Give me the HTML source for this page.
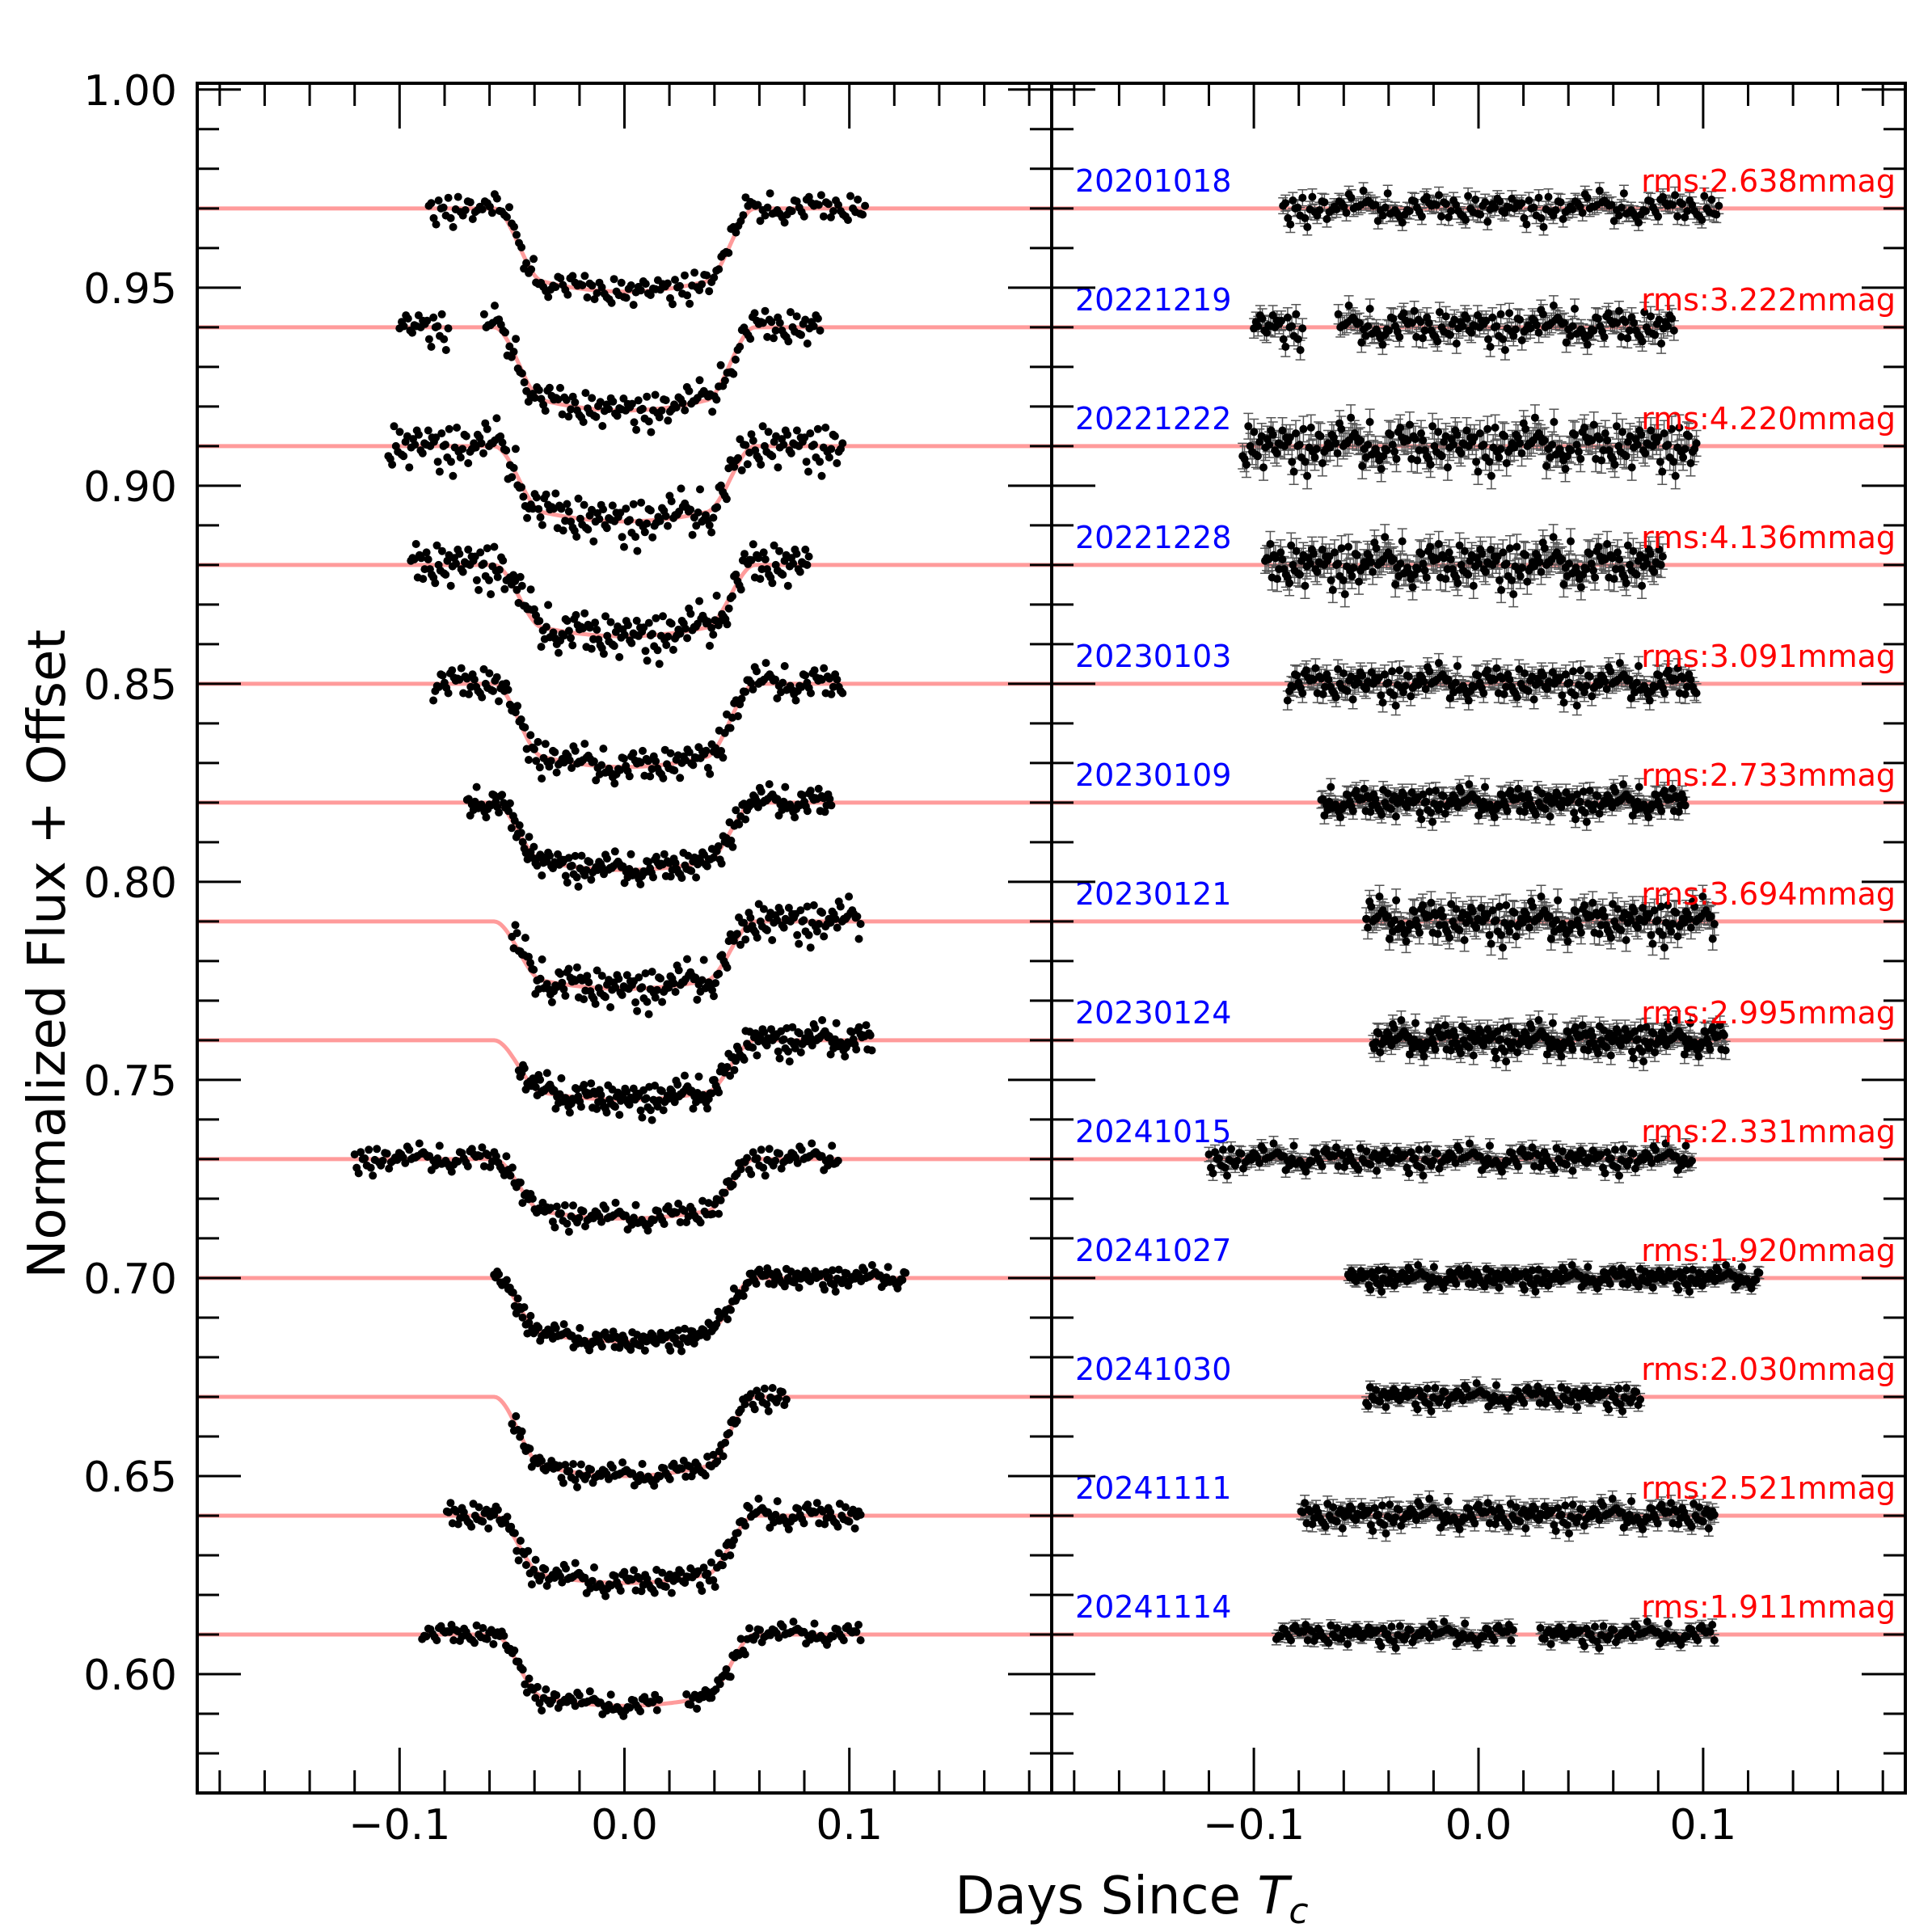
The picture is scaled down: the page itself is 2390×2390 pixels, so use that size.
<!DOCTYPE html>
<html><head><meta charset="utf-8"><style>
html,body{margin:0;padding:0;background:#fff}
svg{display:block}
text{font-family:"DejaVu Sans","Liberation Sans",sans-serif}
</style></head><body>
<svg id="chart" width="2390" height="2390" viewBox="0 0 2390 2390" xmlns="http://www.w3.org/2000/svg">
<rect width="2390" height="2390" fill="#fff"/>
<g id="gL"></g>
<g id="gR"></g>
<g id="gA"></g>
<text x="0" y="0" font-size="64" text-anchor="middle" transform="translate(80,1180) rotate(-90)">Normalized Flux + Offset</text>
<text x="1400" y="2367" font-size="64" text-anchor="middle">Days Since <tspan font-style="italic">T</tspan><tspan font-style="italic" font-size="44" dy="12">c</tspan></text>
</svg>
<script>
// ---- data ----
const nightDates = ["20201018","20221219","20221222","20221228","20230103","20230109","20230121","20230124","20241015","20241027","20241030","20241111","20241114"];
const nightOffsets = [0.97,0.94,0.91,0.88,0.85,0.82,0.79,0.76,0.73,0.70,0.67,0.64,0.61];
const nightRms = [2.638,3.222,4.220,4.136,3.091,2.733,3.694,2.995,2.331,1.920,2.030,2.521,1.911];
const nightStart = [-0.087,-0.100,-0.105,-0.095,-0.085,-0.070,-0.050,-0.047,-0.120,-0.058,-0.050,-0.079,-0.090];
const nightEnd = [0.107,0.087,0.097,0.082,0.097,0.092,0.105,0.110,0.095,0.125,0.072,0.105,0.105];
const nightCount = [180,200,240,230,220,230,210,250,240,260,140,220,210];
const nightGapStart = [null,-0.078,null,null,null,null,null,null,null,null,null,null,0.016];
const nightGapEnd = [null,-0.063,null,null,null,null,null,null,null,null,null,null,0.027];
const nightDepth = [0.021,0.021,0.019,0.018,0.021,0.017,0.017,0.015,0.015,0.016,0.020,0.017,0.018];
const residualTable = [0.3,-0.8,1.2,0.1,-0.4,0.9,-1.5,0.6,-0.2,0.0,1.7,-0.9,0.4,-0.1,-1.1,0.8,0.2,-0.6,1.0,-0.3,
 0.5,-1.8,0.7,0.2,-0.5,1.3,-0.7,0.1,0.9,-1.2,0.4,-0.2,0.6,-0.9,1.1,0.0,-0.4,2.0,-0.6,0.3,
 -1.3,0.8,0.1,-0.2,0.7,-1.0,0.5,1.4,-0.3,-0.8,0.2,0.9,-1.6,0.4,0.0,-0.5,1.2,-0.1,0.6,-0.7,
 1.5,-0.4,0.2,-1.1,0.8,0.3,-0.2,-0.9,1.0,0.1,-2.1,0.6,0.4,-0.3,0.7,-0.6,1.1,-0.1,0.2,-1.4,
 0.9,0.5,-0.7,0.0,1.3,-0.5,-0.2,0.8,-1.0,0.3,0.6,-0.4,1.6,-0.8,0.1,-0.3,0.7];
const xTickLabels = ["−0.1","0.0","0.1"];
const xTickValues = [-0.1,0,0.1];
const yTickValues = [0.60,0.65,0.70,0.75,0.80,0.85,0.90,0.95,1.00];
const yTickLabels = ["0.60","0.65","0.70","0.75","0.80","0.85","0.90","0.95","1.00"];

// ---- axes ----
const X0=244,X1=1301,X2=2357,YT=103,YB=2218;
const XMIN=-0.19,XMAX=0.19,YMAX=1.0016,YMIN=0.570;
function xL(t){return X0+(t-XMIN)/(XMAX-XMIN)*(X1-X0);}
function xR(t){return X1+(t-XMIN)/(XMAX-XMIN)*(X2-X1);}
function yS(v){return YT+(YMAX-v)/(YMAX-YMIN)*(YB-YT);}
const NS="http://www.w3.org/2000/svg";
function mk(parent,tag,attrs){const e=document.createElementNS(NS,tag);for(const k in attrs)e.setAttribute(k,attrs[k]);parent.appendChild(e);return e;}
function model(t,depth){
  const t1=0.058,t2=0.036,a=Math.abs(t);
  if(a>=t1) return 0;
  if(a<=t2) return depth*(0.88+0.12*(1-(t/t2)*(t/t2)));
  const s=(t1-a)/(t1-t2); const sm=s*s*(3-2*s);
  return depth*0.88*sm;
}
const gL=document.getElementById('gL'),gR=document.getElementById('gR'),gA=document.getElementById('gA');
for(let n=0;n<nightDates.length;n++){
  const off=nightOffsets[n],dep=nightDepth[n],sig=nightRms[n]*0.00085;
  let d="";
  for(let k=0;k<=380;k++){const t=XMIN+k*(XMAX-XMIN)/380;d+=(k?"L":"M")+xL(t).toFixed(1)+" "+yS(off-model(t,dep)).toFixed(1);}
  const ml=mk(gL,'path',{d:d,fill:'none',stroke:'#ff9090',"stroke-width":5,"stroke-opacity":0.9});
  
  
  const rl=mk(gR,'line',{x1:X1,x2:X2,y1:yS(off),y2:yS(off),stroke:'#ff9090',"stroke-width":5,"stroke-opacity":0.9});
  
  
  const pts=mk(gL,'g',{fill:'#000'});
  
  
  const rp=mk(gR,'g',{});
  
  
  let eb="",cnt=nightCount[n];
  for(let i=0;i<cnt;i++){
    const t=nightStart[n]+i*(nightEnd[n]-nightStart[n])/(cnt-1);
    if(nightGapStart[n]!==null && t>nightGapStart[n] && t<nightGapEnd[n]) continue;
    const r=residualTable[(i*7+n*13)%residualTable.length]*sig;
    const v=off-model(t,dep)+r;
    mk(pts,'circle',{cx:xL(t).toFixed(1),cy:yS(v).toFixed(1),r:5});
    const xr=xR(t),yr=yS(off+r);
    const eh=sig*0.9*(YB-YT)/(YMAX-YMIN);
    eb+="M"+xr.toFixed(1)+" "+(yr-eh).toFixed(1)+"V"+(yr+eh).toFixed(1)+"M"+(xr-6).toFixed(1)+" "+(yr-eh).toFixed(1)+"h12M"+(xr-6).toFixed(1)+" "+(yr+eh).toFixed(1)+"h12";
  }
  const ebp=mk(rp,'path',{d:eb,stroke:'#555',"stroke-width":1.5,fill:'none'});
  
  
  const rg=mk(rp,'g',{fill:'#000'});
  for(let i=0;i<cnt;i++){
    const t=nightStart[n]+i*(nightEnd[n]-nightStart[n])/(cnt-1);
    if(nightGapStart[n]!==null && t>nightGapStart[n] && t<nightGapEnd[n]) continue;
    const r=residualTable[(i*7+n*13)%residualTable.length]*sig;
    mk(rg,'circle',{cx:xR(t).toFixed(1),cy:yS(off+r).toFixed(1),r:5});
  }
  const dl=mk(gR,'text',{x:1330,y:(yS(off)-21).toFixed(1),"font-size":38,fill:'#0000ff'});
  dl.textContent=nightDates[n];
  
  
  const rmsl=mk(gR,'text',{x:2345,y:(yS(off)-21).toFixed(1),"font-size":38,fill:'#ff0000',"text-anchor":"end"});
  rmsl.textContent="rms:"+nightRms[n].toFixed(3)+"mmag";
  
  
}
let tk="";
for(const [fx,lo,hi] of [[xL,X0,X1],[xR,X1,X2]]){
  for(let k=-9;k<=9;k++){const t=k*0.02;const major=(k%5===0);const px=fx(t);const L=major?56:28;
    tk+="M"+px.toFixed(1)+" "+YB+"v"+(-L)+"M"+px.toFixed(1)+" "+YT+"v"+L;}
  for(let k=57;k<=100;k++){const v=k/100;const py=yS(v).toFixed(1);const major=(k%5===0);const L=major?54:27;
    tk+="M"+lo+" "+py+"h"+L+"M"+hi+" "+py+"h"+(-L);}
}
const tp=mk(gA,'path',{d:tk,stroke:'#000',"stroke-width":3,fill:'none'});


const fr=mk(gA,'path',{d:"M"+X0+" "+YT+"H"+X2+"V"+YB+"H"+X0+"Z M"+X1+" "+YT+"V"+YB,stroke:'#000',"stroke-width":4,fill:'none'});


for(let i=0;i<yTickValues.length;i++){
  const t=mk(gA,'text',{x:219,y:(yS(yTickValues[i])+19).toFixed(1),"font-size":52,"text-anchor":"end"});
  t.textContent=yTickLabels[i];
  
  
}
for(const fx of [xL,xR]){
  for(let i=0;i<xTickValues.length;i++){
    const t=mk(gA,'text',{x:fx(xTickValues[i]).toFixed(1),y:2275,"font-size":52,"text-anchor":"middle"});
    t.textContent=xTickLabels[i];
    
    
  }
}
</script>
</body></html>
